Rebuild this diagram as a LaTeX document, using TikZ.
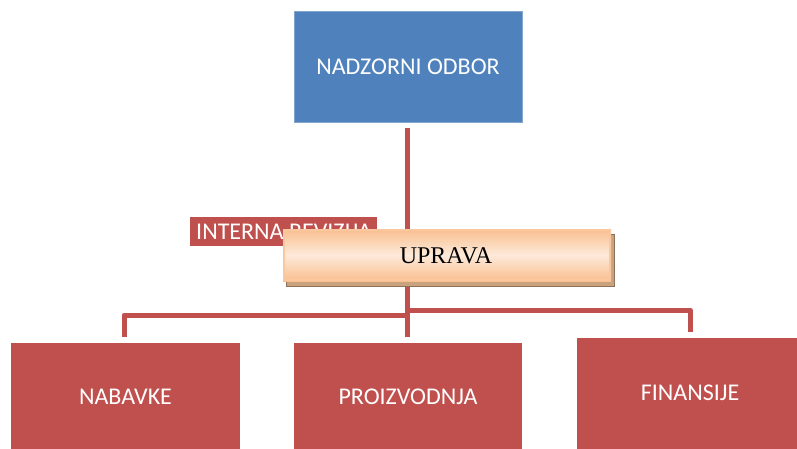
\documentclass[tikz,border=0pt]{standalone}
\usepackage{fontspec}
\setmainfont{Carlito}
\newfontfamily\timesf{Liberation Serif}
\usetikzlibrary{calc}
\definecolor{blueBox}{HTML}{4F81BD}
\definecolor{redBox}{HTML}{C0504D}
\definecolor{orLight}{HTML}{FDEADA}
\definecolor{orDark}{HTML}{F9BE8E}
\definecolor{orBorder}{HTML}{FAC8A0}
\definecolor{shadowC}{HTML}{C9A27E}
\begin{document}
\begin{tikzpicture}[x=1pt,y=-1pt,
  box/.style={draw=none, minimum width=228pt, minimum height=105pt, inner sep=0pt, text=white, font=\fontsize{24}{27}\selectfont},
  redbox/.style={box, fill=redBox},
  lbl/.style={text=white, font=\fontsize{24}{27}\selectfont},
  conn/.style={draw=redBox, line width=5pt},
]
\useasboundingbox (0,0) rectangle (797,448);
% nodes
\node[box, fill=blueBox, draw=blueBox!70!white, line width=0.6pt, minimum width=228pt, minimum height=111pt] (nad) at (408,66.5) {NADZORNI ODBOR};
\node[redbox, minimum width=229pt, minimum height=110pt, anchor=north west] (nab) at (11,343) {};
\node[lbl] (nabt) at (125.5,397) {NABAVKE};
\node[redbox, minimum width=228pt, minimum height=110pt, anchor=north west] (pro) at (294,343) {};
\node[lbl] (prot) at (408,397) {PROIZVODNJA};
\node[redbox, minimum width=225pt, minimum height=115pt, anchor=north west] (fin) at (577,338) {};
\node[lbl] (fint) at (690,393) {FINANSIJE};
% connectors
\coordinate (top) at (407,128);
\coordinate (bot) at (407,337);
\coordinate (lj) at (407,315);
\coordinate (rj) at (407,310);
\coordinate (le) at (124,337);
\coordinate (re) at (690,332);
\draw[conn] (top) -- (bot);
\draw[conn, line join=round] (lj) -| (le);
\draw[conn, line join=round] (rj) -| (re);
% interna revizija
\node[fill=redBox, anchor=north west, minimum width=187pt, minimum height=29pt, inner sep=0pt] (ir) at (190,217) {};
\node[lbl, anchor=west, inner sep=0pt] (irt) at (196,231.5) {INTERNA REVIZIJA};
% uprava shadow
\fill[shadowC, draw=shadowC!70!black, line width=0.4pt] (286,234) rectangle (614,286);
% uprava
\shade[shading angle=150, top color=orDark, bottom color=orDark, middle color=orLight] (283,229) rectangle (611,281);
\draw[orBorder, line width=2pt] (284,230) rectangle (610,280);
\node[font=\timesf\fontsize{24}{28}\selectfont, text=black] (upr) at (446,256) {UPRAVA};
\end{tikzpicture}
\end{document}
